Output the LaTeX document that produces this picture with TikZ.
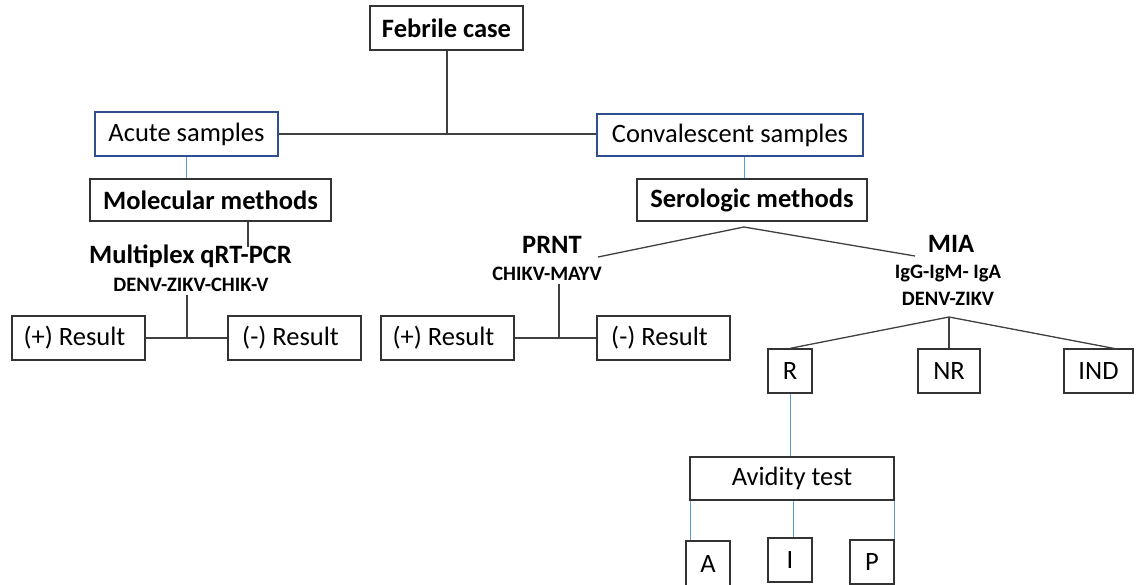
\documentclass[tikz,border=0pt]{standalone}
\usepackage{fontspec}
\setmainfont{Carlito}
\definecolor{boxline}{HTML}{333333}
\definecolor{darkblue}{HTML}{2F4F8F}
\definecolor{lightblue}{HTML}{5B9BD5}
\definecolor{conn}{HTML}{404040}
\begin{document}
\begin{tikzpicture}[x=1pt,y=-1pt,
  bx/.style={draw=boxline,line width=1.3pt,inner sep=0pt,align=center,font=\fontsize{26.5}{30}\selectfont},
  bbx/.style={bx,font=\fontsize{26.5}{30}\selectfont\bfseries},
  blbx/.style={bx,draw=darkblue},
  ttl/.style={inner sep=0pt,font=\fontsize{26.5}{30}\selectfont\bfseries},
  sub/.style={inner sep=0pt,font=\fontsize{20.5}{24}\selectfont\bfseries},
  cn/.style={draw=conn,line width=1.3pt},
  bl/.style={draw=lightblue,line width=1pt}]
\useasboundingbox (0,0) rectangle (1139,584);
% nodes
\node[bbx,minimum width=153pt,minimum height=44pt] (feb) at (446.5,28) {Febrile case};
\node[blbx,minimum width=183pt,minimum height=44pt] (acute) at (186.5,134) {Acute samples};
\node[blbx,minimum width=266pt,minimum height=42pt] (conv) at (730,135) {Convalescent samples};
\node[bbx,minimum width=241pt,minimum height=42pt] (mol) at (210.5,200) {Molecular methods};
\node[bbx,minimum width=230pt,minimum height=42pt] (ser) at (752,200) {Serologic methods};
\node[ttl] (mult) at (190.5,256) {Multiplex qRT-PCR};
\node[sub] (denv1) at (191,285) {DENV-ZIKV-CHIK-V};
\node[bx,minimum width=133pt,minimum height=44pt] (pos1) at (78.5,338) {(+) Result\hspace*{8pt}};
\node[bx,minimum width=133pt,minimum height=44pt] (neg1) at (294.5,338) {(-) Result\hspace*{8pt}};
\node[ttl] (prnt) at (552,245) {PRNT};
\node[sub] (chik) at (547,274) {CHIKV-MAYV};
\node[bx,minimum width=133pt,minimum height=44pt] (pos2) at (447.5,338) {(+) Result\hspace*{8pt}};
\node[bx,minimum width=133pt,minimum height=44pt] (neg2) at (663.5,338) {(-) Result\hspace*{8pt}};
\node[ttl] (mia) at (951,243.5) {MIA};
\node[sub] (igg) at (948,274) {IgG-IgM- IgA};
\node[sub] (denv2) at (948,299) {DENV-ZIKV};
\node[bx,minimum width=44pt,minimum height=44pt] (r) at (790,371) {R};
\node[bx,minimum width=62pt,minimum height=44pt] (nr) at (949,371) {NR};
\node[bx,minimum width=69pt,minimum height=44pt] (ind) at (1098.5,371) {IND};
\node[bx,minimum width=204pt,minimum height=43pt] (av) at (792,478.5) {Avidity test};
\node[bx,minimum width=44pt,minimum height=45pt] (a) at (708,563.5) {A};
\node[bx,minimum width=44pt,minimum height=44pt] (i) at (790,560) {I};
\node[bx,minimum width=44pt,minimum height=44pt] (p) at (872,562) {P};
% junction coordinates
\coordinate (fj) at (447,134);
\coordinate (m1) at (248,247);
\coordinate (j1) at (187,338);
\coordinate (j2) at (559,338);
\coordinate (sa) at (744,227);
\coordinate (sl) at (598,257);
\coordinate (sr) at (915,256);
\coordinate (ma) at (949,317);
\coordinate (ir) at (1117,349);
% connectors
\draw[cn] (feb.south -| fj) -- (fj);
\draw[cn] (acute) -- (conv.west |- acute);
\draw[bl] (acute.south) -- (acute.south |- mol.north);
\draw[cn] (mol.south -| m1) -- (m1);
\draw[cn] (denv1.south -| j1) ++(0,3) -- (j1);
\draw[cn] (pos1) -- (neg1);
\draw[bl] (conv.south -| sa) -- (ser.north -| sa);
\draw[cn] (sl) -- (sa) -- (sr);
\draw[cn] (chik.south -| j2) ++(0,3) -- (j2);
\draw[cn] (pos2) -- (neg2);
\draw[cn] (r.north) -- (ma) -- (ir);
\draw[cn] (ma) -- (nr.north);
\draw[bl] (r.south) -- (r.south |- av.north);
\draw[bl] ([xshift=1pt]av.south west) -- ([xshift=1pt]av.south west |- a.north);
\draw[bl] ([xshift=1pt]av.south) -- ([xshift=1pt]av.south |- i.north);
\draw[bl] (av.south east) -- (av.south east |- p.north);
\end{tikzpicture}
\end{document}
